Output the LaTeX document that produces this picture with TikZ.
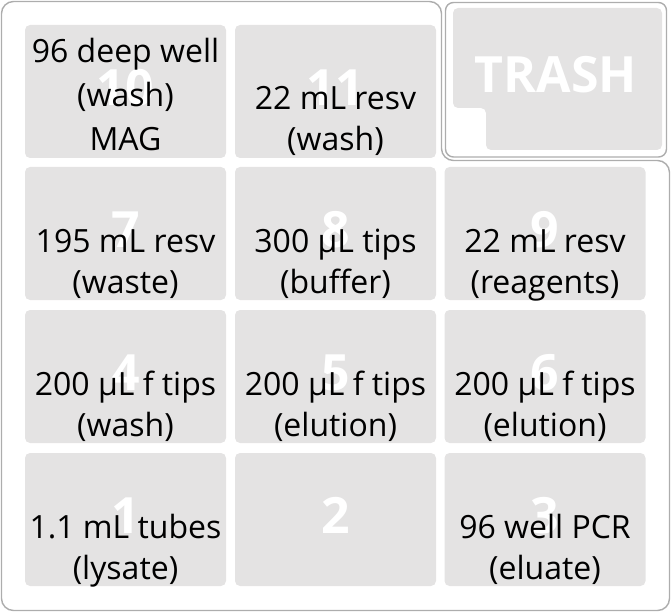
\documentclass[tikz,border=0pt]{standalone}
\usepackage{fontspec}
\setmainfont{Open Sans}
\definecolor{slotgray}{HTML}{E4E3E3}
\definecolor{linegray}{HTML}{ADADAD}
\begin{document}
\begin{tikzpicture}[x=1pt,y=-1pt,
  outline/.style={draw=linegray, line width=1.4pt},
  slotbox/.style={fill=slotgray, rounded corners=5pt, minimum width=201pt, minimum height=133pt, inner sep=0pt, draw=none},
  slotnum/.style={text=white, font=\fontsize{50}{50}\selectfont\bfseries, inner sep=0pt},
  lbl/.style={font=\fontsize{32}{38}\selectfont, anchor=base, inner sep=0pt, text=black}]
\useasboundingbox (0,0) rectangle (671,612);
% deck outline
\draw[outline, rounded corners=12pt] (1.5,1.5) -- (441.5,1.5) -- (441.5,160.5) -- (669.5,160.5) -- (669.5,610.5) -- (1.5,610.5) -- cycle;
% trash
\draw[outline, rounded corners=8pt] (445.5,2.5) rectangle (666.5,157);
\fill[slotgray, rounded corners=5pt] (453,8) -- (662,8) -- (662,150) -- (486,150) -- (486,108) -- (453,108) -- cycle;
\node[slotnum] (trash) at (556,75) {TRASH};
% slots
\node[slotbox] (s10) at (125.5,91.5) {};
\node[slotbox] (s11) at (335.5,91.5) {};
\node[slotbox] (s7) at (125.5,233.5) {};
\node[slotbox] (s8) at (335.5,233.5) {};
\node[slotbox] (s9) at (545,233.5) {};
\node[slotbox] (s4) at (125.5,376.5) {};
\node[slotbox] (s5) at (335.5,376.5) {};
\node[slotbox] (s6) at (545,376.5) {};
\node[slotbox] (s1) at (125.5,519.5) {};
\node[slotbox] (s2) at (335.5,519.5) {};
\node[slotbox] (s3) at (545,519.5) {};
% slot numbers
\foreach \n in {1,...,11} {\node[slotnum] (n\n) at ([yshift=4pt]s\n.center) {\n};}
% labels
\node[lbl] (t10a) at (125.5,63) {96 deep well};
\node[lbl] (t10b) at (125.5,107) {(wash)};
\node[lbl] (t10c) at (125.5,151) {MAG};
\node[lbl] (t11a) at (335.5,110) {22 mL resv};
\node[lbl] (t11b) at (335.5,151) {(wash)};
\node[lbl] (t7a) at (125.5,252) {195 mL resv};
\node[lbl] (t7b) at (125.5,293) {(waste)};
\node[lbl] (t8a) at (335.5,252) {300 µL tips};
\node[lbl] (t8b) at (335.5,293) {(buffer)};
\node[lbl] (t9a) at (545,252) {22 mL resv};
\node[lbl] (t9b) at (545,293) {(reagents)};
\node[lbl] (t4a) at (125.5,395) {200 µL f tips};
\node[lbl] (t4b) at (125.5,436) {(wash)};
\node[lbl] (t5a) at (335.5,395) {200 µL f tips};
\node[lbl] (t5b) at (335.5,436) {(elution)};
\node[lbl] (t6a) at (545,395) {200 µL f tips};
\node[lbl] (t6b) at (545,436) {(elution)};
\node[lbl] (t1a) at (125.5,538) {1.1 mL tubes};
\node[lbl] (t1b) at (125.5,579) {(lysate)};
\node[lbl] (t3a) at (545,538) {96 well PCR};
\node[lbl] (t3b) at (545,579) {(eluate)};
\end{tikzpicture}
\end{document}
